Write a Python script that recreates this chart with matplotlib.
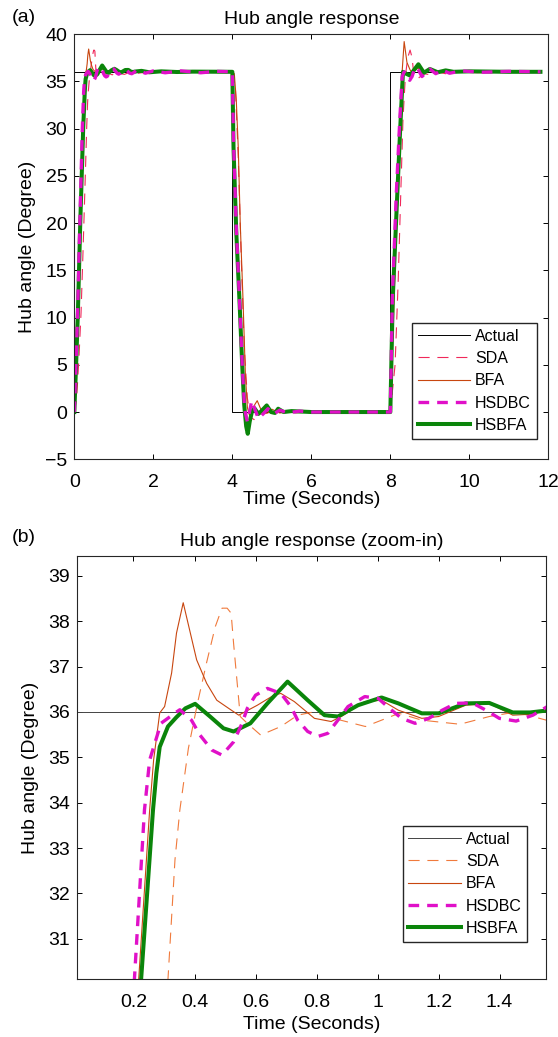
import matplotlib
matplotlib.use("Agg")
import matplotlib.pyplot as plt

plt.rcParams['font.family'] = ['Liberation Sans', 'DejaVu Sans']
plt.rcParams['font.size'] = 14

# reference signal (square wave)
actual_t = [0, 4, 8, 11.8]
actual_y = [36, 0, 36, 36]

# SDA response
sda_t = [0, 0.06, 0.12, 0.17, 0.22, 0.27, 0.313, 0.336, 0.352, 0.38, 0.41, 0.44, 0.468, 0.49,
         0.507, 0.52, 0.528, 0.54, 0.55, 0.573, 0.617, 0.683, 0.738, 0.79, 0.85, 0.96, 1.07,
         1.145, 1.27, 1.366, 1.453, 1.553, 1.7, 2.0, 2.5, 3.0, 4.0,
         4.08, 4.15, 4.22, 4.3, 4.38, 4.45, 4.55, 4.7, 4.85, 5.0, 5.2, 5.5, 6.0, 8.0,
         8.12, 8.2, 8.27, 8.32, 8.38, 8.44, 8.5, 8.55, 8.6, 8.7, 8.85, 9.0, 9.15, 9.4, 9.7,
         10.2, 11.0, 11.8]
sda_y = [0, 1.5, 6, 10.5, 17, 23.9, 30.1, 32.74, 33.84, 35.2, 36.2, 37.1, 37.88, 38.29,
         38.29, 38.18, 37.52, 36.63, 35.9, 35.75, 35.49, 35.68, 35.93, 36.0, 35.87, 35.68, 35.97,
         35.82, 35.73, 35.9, 36.0, 35.82, 35.9, 36.05, 35.95, 36.0, 36.0,
         34, 27, 17, 7, 1.5, -0.5, -0.8, -0.3, 0.2, -0.3, 0.1, -0.1, 0, 0,
         5, 14, 24, 31, 35.5, 37.5, 38.3, 37.5, 35.5, 35.3, 35.8, 35.7, 36.0, 35.8, 36.0,
         35.9, 36.0, 36.0]

# BFA response
bfa_t = [0, 0.05, 0.1, 0.16, 0.217, 0.253, 0.266, 0.286, 0.302, 0.325, 0.341, 0.363, 0.407,
         0.44, 0.473, 0.512, 0.545, 0.606, 0.66, 0.683, 0.727, 0.793, 0.848, 0.881, 0.958,
         1.013, 1.068, 1.145, 1.2, 1.289, 1.366, 1.443, 1.5, 1.564, 1.7, 2.0, 2.5, 3.0, 4.0,
         4.05, 4.1, 4.15, 4.2, 4.27, 4.33, 4.38, 4.43, 4.5, 4.57, 4.63, 4.7, 4.78, 4.9, 5.0,
         5.2, 5.5, 6.0, 8.0,
         8.08, 8.15, 8.22, 8.27, 8.3, 8.35, 8.42, 8.5, 8.55, 8.7, 8.85, 9.0, 9.2, 9.5, 10.0, 11.8]
bfa_y = [0, 5.5, 12, 21.5, 30.1, 33.84, 34.94, 35.98, 36.12, 36.86, 37.74, 38.41, 37.15,
         36.63, 36.26, 36.08, 35.93, 36.15, 36.37, 36.41, 36.23, 35.86, 35.79, 35.9, 36.23,
         36.26, 36.04, 35.86, 35.9, 36.15, 36.19, 35.93, 35.95, 36.04, 36.05, 35.97, 36.02, 36.0, 36.0,
         35.8, 33, 28, 20, 11.9, 4, 0.5, -0.3, 0.2, 0.8, 1.2, 0.5, -0.2, -0.1, 0.3,
         -0.1, 0.1, 0, 0,
         10, 20, 28, 34, 36.1, 39.2, 37, 36.2, 35.9, 36.4, 35.8, 36.2, 35.9, 36.1, 36.0, 36.0]

# HSDBC response
hsdbc_t = [0, 0.04, 0.08, 0.14, 0.203, 0.236, 0.253, 0.29, 0.341, 0.352, 0.39, 0.418, 0.457,
           0.49, 0.528, 0.556, 0.573, 0.6, 0.639, 0.683, 0.716, 0.738, 0.771, 0.804, 0.837,
           0.87, 0.903, 0.958, 1.002, 1.046, 1.079, 1.123, 1.168, 1.212, 1.256, 1.311, 1.355,
           1.399, 1.454, 1.509, 1.564, 1.65, 1.8, 2.0, 2.3, 2.7, 3.2, 3.6, 4.0,
           4.03, 4.1, 4.18, 4.25, 4.31, 4.38, 4.45, 4.49, 4.56, 4.66, 4.78, 4.9, 5.05, 5.2,
           5.4, 5.7, 6.0, 8.0,
           8.05, 8.15, 8.24, 8.3, 8.35, 8.42, 8.49, 8.55, 8.62, 8.68, 8.8, 8.9, 9.0, 9.15,
           9.3, 9.5, 9.8, 10.3, 11.0, 11.8]
hsdbc_y = [0, 5, 10, 20, 30.1, 33.84, 34.94, 35.75, 36.0, 36.05, 35.82, 35.49, 35.16,
           35.05, 35.34, 35.75, 36.08, 36.37, 36.52, 36.41, 36.12, 35.82, 35.57, 35.46, 35.53,
           35.82, 36.12, 36.34, 36.3, 36.04, 35.86, 35.75, 35.86, 36.04, 36.19, 36.2, 36.04,
           35.86, 35.8, 35.93, 36.15, 36.1, 35.85, 36.1, 35.9, 36.1, 35.9, 36.05, 36.0,
           28.5, 19.5, 12, 5, 0.3, -1.0, 0.3, 1.2, 0.4, -0.7, -0.2, 0.35, -0.2, 0.2,
           -0.1, 0.1, 0, 0,
           12, 23, 31, 35.5, 36, 35.5, 35.1, 35.5, 36.4, 36.45, 35.5, 35.9, 36.3, 35.8,
           36.2, 35.85, 36.1, 35.95, 36.05, 36.0]

# HSBFA response
hsbfa_t = [0, 0.045, 0.09, 0.15, 0.225, 0.264, 0.275, 0.286, 0.313, 0.34, 0.37, 0.402, 0.451,
           0.495, 0.528, 0.583, 0.639, 0.705, 0.771, 0.826, 0.87, 0.936, 1.013, 1.068, 1.145,
           1.2, 1.289, 1.366, 1.443, 1.5, 1.564, 1.7, 1.9, 2.2, 2.6, 3.0, 4.0,
           4.03, 4.1, 4.18, 4.25, 4.3, 4.35, 4.39, 4.44, 4.5, 4.56, 4.66, 4.78, 4.87, 4.98,
           5.08, 5.16, 5.3, 5.5, 6.0, 7.0, 8.0,
           8.06, 8.17, 8.25, 8.32, 8.4, 8.5, 8.6, 8.71, 8.85, 9.0, 9.2, 9.4, 9.6, 10.0, 11.0, 11.8]
hsbfa_y = [0, 5, 10.5, 20, 30.1, 33.84, 34.65, 35.23, 35.68, 35.88, 36.08, 36.18, 35.9,
           35.64, 35.57, 35.75, 36.19, 36.67, 36.26, 35.93, 35.9, 36.15, 36.32, 36.19, 35.97,
           35.97, 36.19, 36.2, 35.99, 35.99, 36.04, 36.1, 35.95, 36.05, 35.98, 36.02, 36.0,
           28, 19, 11.9, 5, 0.8, -1.5, -2.3, -1.0, 0.1, 0.4, -0.2, 0.3, 0.7, 0.0,
           -0.1, 0.35, 0.0, 0.1, 0, 0, 0,
           11.9, 22.5, 30, 36.0, 35.8, 35.6, 36.2, 36.8, 35.9, 36.3, 35.95, 36.15, 36.0, 36.05, 36.0, 36.0]

labels = ['Actual', 'SDA', 'BFA', 'HSDBC', 'HSBFA']

fig = plt.figure(figsize=(5.58, 10.37), dpi=100)
ax_a = fig.add_axes([0.1332, 0.5571, 0.8495, 0.4101])
ax_b = fig.add_axes([0.1375, 0.0559, 0.8410, 0.4079])


def draw(ax, sda_color, actual_color):
    ax.plot(actual_t, actual_y, color=actual_color, lw=0.7, drawstyle='steps-post',
            label=labels[0], zorder=2)
    ax.plot(sda_t, sda_y, color=sda_color, lw=0.8, dashes=(10, 7), label=labels[1], zorder=2.1)
    ax.plot(bfa_t, bfa_y, color='#c8460f', lw=0.8, label=labels[2], zorder=2.2)
    ax.plot(hsdbc_t, hsdbc_y, color='#e010c8', lw=2.4, dashes=(3.2, 2.4), label=labels[3],
            zorder=2.4)
    ax.plot(hsbfa_t, hsbfa_y, color='#0a850a', lw=2.9, label=labels[4], zorder=2.3)
    ax.tick_params(direction='in', top=True, right=True, length=3.5, width=0.7,
                   labelsize=14)
    ax.tick_params(axis='x', pad=10.5)
    ax.tick_params(axis='y', pad=5)
    for sp in ax.spines.values():
        sp.set_linewidth(0.8)
        sp.set_color('#262626')
    ax.set_ylabel('Hub angle (Degree)', labelpad=6.5)
    handles, labs = ax.get_legend_handles_labels()
    return handles, labs


def add_legend(ax, handles, labs, anchor):
    ax.legend(handles, labs, loc='upper left', bbox_to_anchor=anchor, fontsize=11.5,
              frameon=True, fancybox=False, edgecolor='#262626', framealpha=1,
              handlelength=3.3, handletextpad=0.3, labelspacing=0.46, borderpad=0.35,
              borderaxespad=0)


h, l = draw(ax_a, '#f0285a', 'black')
ax_a.set_xlim(0, 12)
ax_a.set_ylim(-5, 40)
ax_a.set_xticks(range(0, 13, 2))
ax_a.set_yticks(range(-5, 41, 5))
ax_a.set_xlabel('Time (Seconds)', labelpad=0)
ax_a.set_title('Hub angle response', fontsize=14, pad=7)
add_legend(ax_a, h, l, (0.7125, 0.3205))

h, l = draw(ax_b, '#f07a3c', '#444444')
ax_b.set_xlim(0.014, 1.552)
ax_b.set_ylim(30.11, 39.44)
ax_b.set_xticks([0.2, 0.4, 0.6, 0.8, 1.0, 1.2, 1.4])
ax_b.set_xticklabels(['0.2', '0.4', '0.6', '0.8', '1', '1.2', '1.4'])
ax_b.set_yticks(range(31, 40))
ax_b.set_xlabel('Time (Seconds)', labelpad=4)
ax_b.set_title('Hub angle response (zoom-in)', fontsize=14, pad=7)
add_legend(ax_b, h, l, (0.6947, 0.3617))

fig.text(0.021, 0.983, '(a)', fontsize=14, va='center', ha='left')
fig.text(0.021, 0.482, '(b)', fontsize=14, va='center', ha='left')

fig.savefig('out.png', dpi=100)
